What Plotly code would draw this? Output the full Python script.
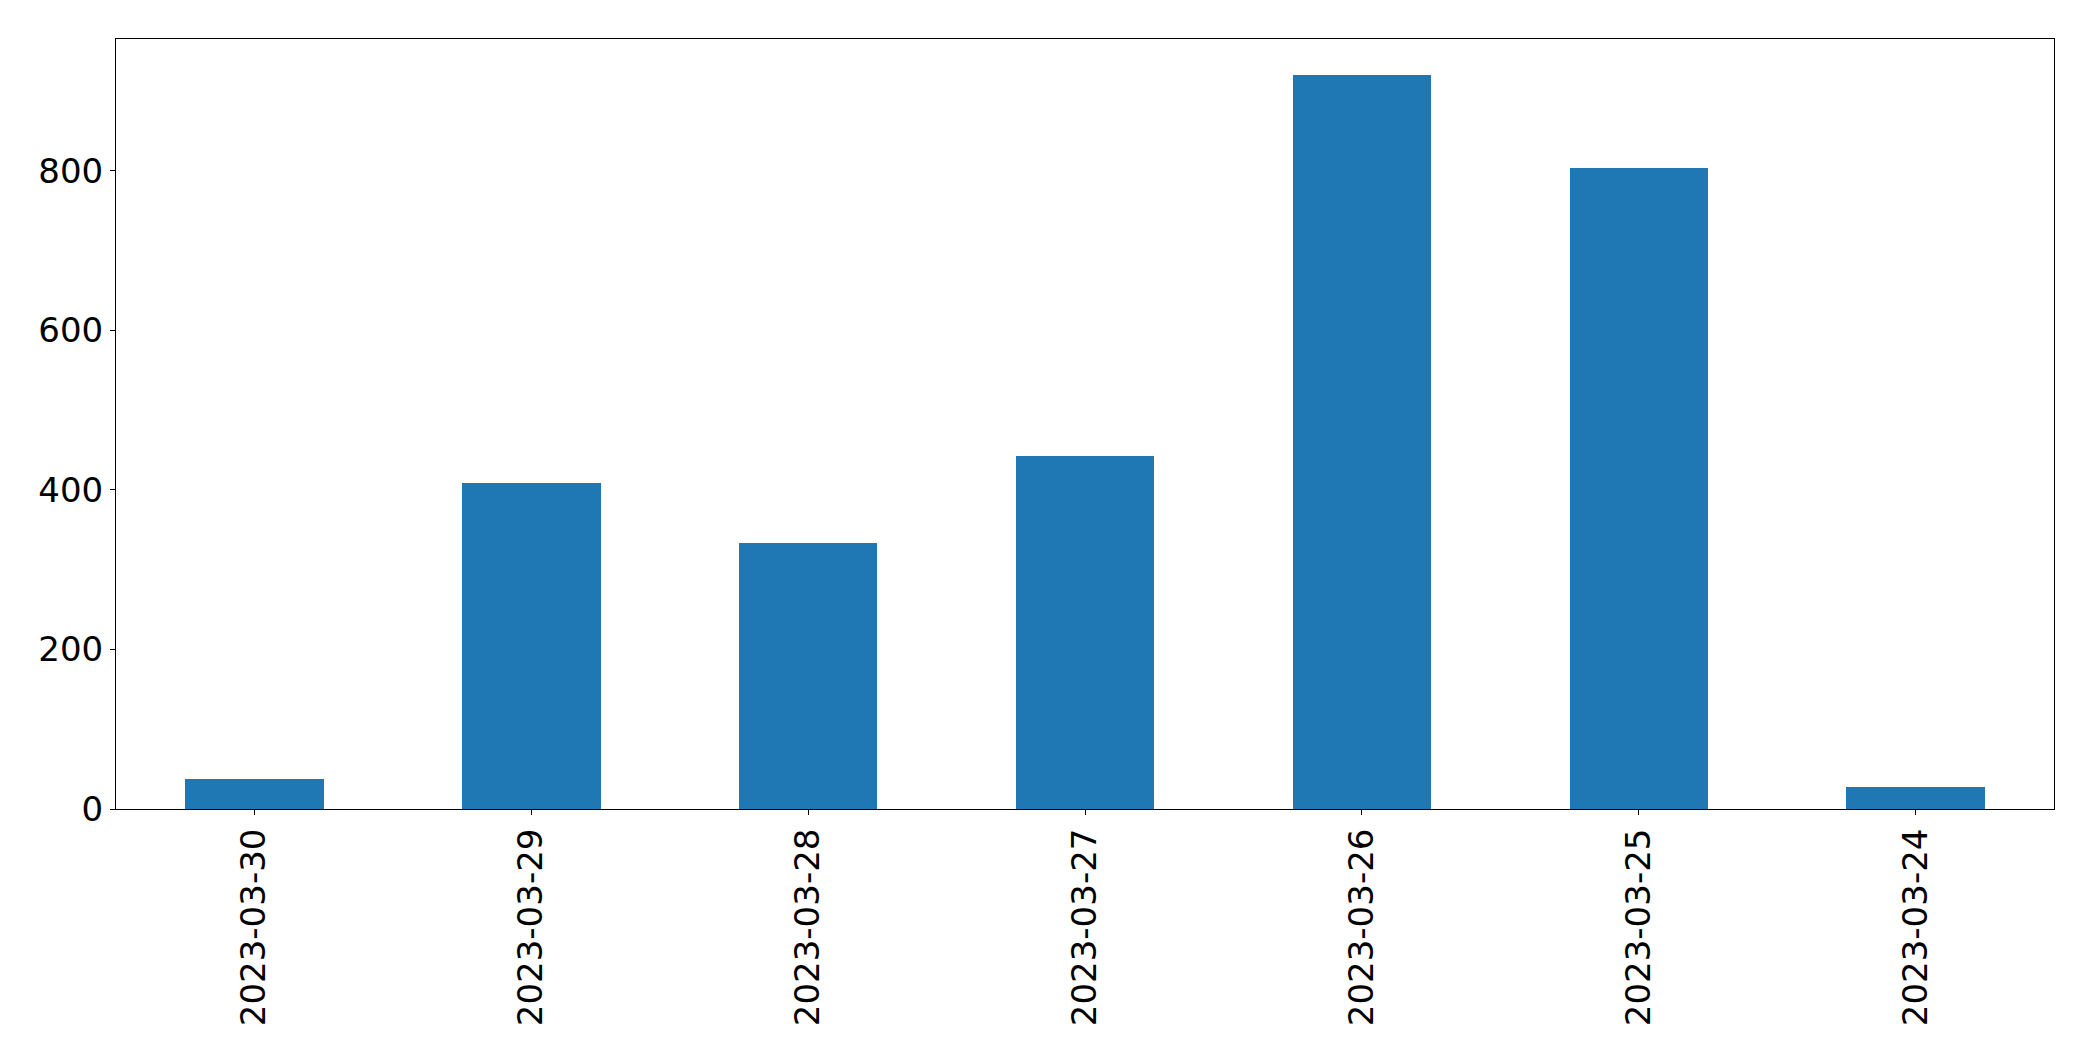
import plotly.graph_objects as go

dates = ["2023-03-30", "2023-03-29", "2023-03-28", "2023-03-27", "2023-03-26", "2023-03-25", "2023-03-24"]
counts = [37, 409, 333, 443, 920, 804, 27]
y_ticks = [0, 200, 400, 600, 800]

fig = go.Figure(
    go.Bar(x=dates, y=counts, width=0.5, marker=dict(color="#1f77b4", line=dict(width=0)))
)

axis_common = dict(
    showline=True, linecolor="black", linewidth=1, mirror=True,
    showgrid=False, zeroline=False,
    ticks="outside", ticklen=5, tickwidth=1, tickcolor="black",
    tickfont=dict(family="DejaVu Sans", size=34, color="black"),
)

# page body has an 8px default margin; compensate so the plot area lands where the reference has it
fig.update_layout(
    width=2077, height=1045,
    margin=dict(l=108, r=31, t=31, b=244),
    paper_bgcolor="white", plot_bgcolor="white",
    showlegend=False,
    bargap=0,
    xaxis=dict(type="category", range=[-0.5, 6.5], tickangle=-90, **axis_common),
    yaxis=dict(range=[0, 965.5], tickvals=y_ticks, ticktext=[str(v) for v in y_ticks], **axis_common),
)

fig.write_html("out.html")
